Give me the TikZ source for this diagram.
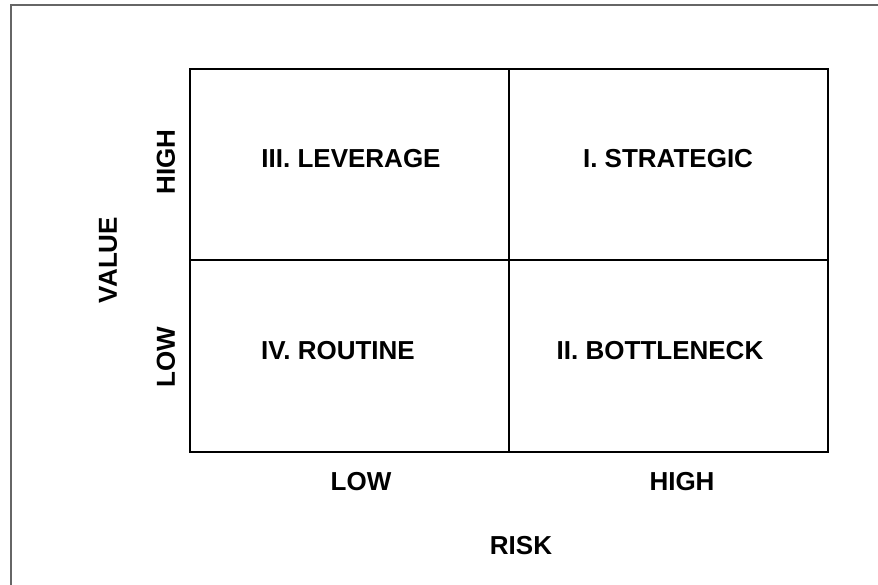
\documentclass[tikz,border=0pt]{standalone}
\usepackage{fontspec}
\setmainfont{Liberation Sans}
\begin{document}
\begin{tikzpicture}[x=1pt,y=-1pt,
  lbl/.style={font=\fontsize{26}{30}\selectfont\bfseries, inner sep=0pt, anchor=center},
  gridline/.style={line width=1.6pt, black},
  frameline/.style={line width=1.4pt, gray!80!black}]
\useasboundingbox (0,0) rectangle (878,584);
\draw[frameline] (11,590) -- (11,5) -- (885,5);
\coordinate (tl) at (190,69);
\coordinate (br) at (828,452);
\coordinate (mt) at (509,69);
\coordinate (mb) at (509,452);
\coordinate (ml) at (190,260);
\coordinate (mr) at (828,260);
\draw[gridline] (tl) rectangle (br);
\draw[gridline] (mt) -- (mb);
\draw[gridline] (ml) -- (mr);
\node[lbl] (lev) at (351,159) {III. LEVERAGE};
\node[lbl] (str) at (668,159) {I. STRATEGIC};
\node[lbl] (rou) at (338,351) {IV. ROUTINE};
\node[lbl] (bot) at (660,351) {II. BOTTLENECK};
\node[lbl] (xlow) at (361,482) {LOW};
\node[lbl] (xhigh) at (682,482) {HIGH};
\node[lbl] (risk) at (521,546) {RISK};
\node[lbl, rotate=90] (value) at (108,260) {VALUE};
\node[lbl, rotate=90] (yhigh) at (166,162) {HIGH};
\node[lbl, rotate=90] (ylow) at (166,357) {LOW};
\end{tikzpicture}
\end{document}
